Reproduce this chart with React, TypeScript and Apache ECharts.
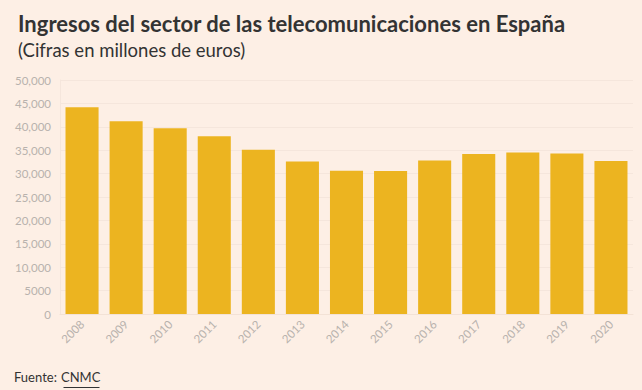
import React, { useEffect, useRef } from "react";
import * as echarts from "echarts";

const years = ["2008", "2009", "2010", "2011", "2012", "2013", "2014", "2015", "2016", "2017", "2018", "2019", "2020"];
const ingresos = [44200, 41200, 39700, 38000, 35100, 32600, 30600, 30550, 32800, 34200, 34500, 34300, 32700];
const yTicks = [0, 5000, 10000, 15000, 20000, 25000, 30000, 35000, 40000, 45000, 50000];

const titleText = "Ingresos del sector de las telecomunicaciones en España";
const subtitleText = "(Cifras en millones de euros)";

function fmt(v: number): string {
  if (v < 10000) return String(v);
  return String(v).replace(/\B(?=(\d{3})+(?!\d))/g, ",");
}

export default function App() {
  const ref = useRef<HTMLDivElement>(null);
  useEffect(() => {
    document.body.style.margin = "0";
    const chart = echarts.init(ref.current!, null, { renderer: "svg" });
    chart.setOption({
      animation: false,
      backgroundColor: "#fdefe5",
      textStyle: { fontFamily: "Lato" },
      title: [
        {
          text: titleText,
          left: 13,
          top: 7,
          textStyle: { fontFamily: "Lato", fontWeight: "bold", fontSize: 22, color: "#333333" },
        },
        {
          text: subtitleText,
          left: 13,
          top: 35,
          textStyle: { fontFamily: "Lato", fontWeight: "normal", fontSize: 18.5, color: "#333333" },
        },
      ],
      graphic: [
        {
          type: "text",
          left: 14,
          top: 370,
          style: { text: "Fuente: ", fontFamily: "Lato", fontSize: 13, fill: "#333333" },
        },
        {
          type: "text",
          left: 61,
          top: 370,
          style: { text: "CNMC", fontFamily: "Lato", fontSize: 13, fill: "#333333" },
        },
        {
          type: "line",
          left: 61,
          top: 385,
          shape: { x1: 0, y1: 0, x2: 36, y2: 0 },
          style: { stroke: "#333333", lineWidth: 1 },
        },
      ],
      grid: { left: 60, right: 9, top: 80, bottom: 76, containLabel: false },
      xAxis: {
        type: "category",
        data: years,
        axisTick: { show: false },
        axisLine: { show: true, lineStyle: { color: "#f3e2d6" } },
        axisLabel: { rotate: 45, interval: 0, color: "#b8b2ad", fontSize: 11.5, margin: 8 },
      },
      yAxis: {
        type: "value",
        min: yTicks[0],
        max: yTicks[yTicks.length - 1],
        interval: 5000,
        axisLine: { show: true, lineStyle: { color: "#f5e6dc" } },
        axisTick: { show: false },
        splitLine: { show: true, lineStyle: { color: "#f5e6dc" } },
        axisLabel: { color: "#b8b2ad", fontSize: 11.5, margin: 9, formatter: (v: number) => fmt(v) },
      },
      series: [
        {
          type: "bar",
          data: ingresos,
          barCategoryGap: "25%",
          itemStyle: { color: "#ecb420" },
        },
      ],
    });
    return () => chart.dispose();
  }, []);
  return <div ref={ref} style={{ width: 642, height: 390 }} />;
}
